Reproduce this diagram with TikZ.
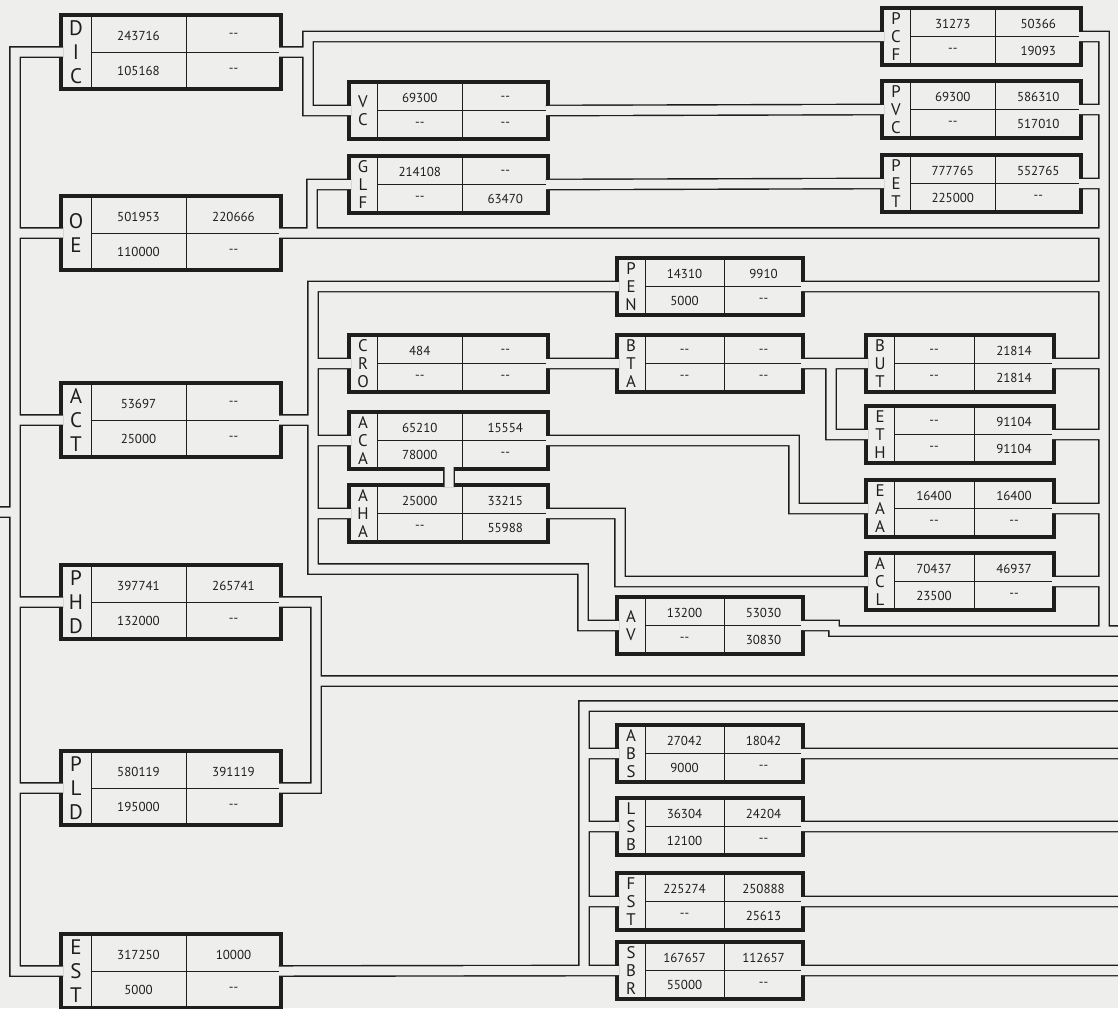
\documentclass[tikz,border=0pt]{standalone}
\usepackage{fontspec}
\setmainfont{PT Sans}
\usepackage{tikz}
\definecolor{Paper}{HTML}{EEEEEC}
\definecolor{Ink}  {HTML}{1E1E1E}
\newcommand{\nd}{-{}-}

\begin{document}
\begin{tikzpicture}[
  x=0.5pt, y=-0.5pt,
  acct/.style     = {draw=Ink, fill=Paper, line width=1.8pt, inner sep=0pt,
                     outer sep=-1pt},
  tag/.style      = {inner sep=0pt, align=center, text=Ink},
  num/.style      = {inner sep=0pt, text=Ink, font=\fontsize{6.5}{7}\selectfont},
  cellline/.style = {draw=Ink, line width=0.45pt},
  duct/.style     = {draw=Ink, line width=5.9pt},
  bore/.style     = {draw=Paper, line width=4.5pt},
]
\path[use as bounding box, fill=Paper] (0,0) rectangle (1118,1008);

\foreach \n/\x/\y/\w/\h/\t/\a/\b/\c/\d in {
  dic/61/15/220/74/{D\\I\\C}/243716/\nd/105168/\nd,
  oe/61/196/220/74/{O\\E}/501953/220666/110000/\nd,
  act/61/383/220/74/{A\\C\\T}/53697/\nd/25000/\nd,
  phd/61/565/220/74/{P\\H\\D}/397741/265741/132000/\nd,
  pld/61/751/220/74/{P\\L\\D}/580119/391119/195000/\nd,
  est/61/934/220/74/{E\\S\\T}/317250/10000/5000/\nd,
  vc/349/82/199/57/{V\\C}/69300/\nd/\nd/\nd,
  glf/349/156/199/57/{G\\L\\F}/214108/\nd/\nd/63470,
  cro/349/335/199/57/{C\\R\\O}/484/\nd/\nd/\nd,
  aca/349/412/199/57/{A\\C\\A}/65210/15554/78000/\nd,
  aha/349/485/199/57/{A\\H\\A}/25000/33215/\nd/55988,
  pcf/882/8/199/57/{P\\C\\F}/31273/50366/\nd/19093,
  pvc/882/81/199/57/{P\\V\\C}/69300/586310/\nd/517010,
  pet/882/155/199/57/{P\\E\\T}/777765/552765/225000/\nd,
  pen/617/258/186/57/{P\\E\\N}/14310/9910/5000/\nd,
  bta/617/335/186/57/{B\\T\\A}/\nd/\nd/\nd/\nd,
  av/617/597/186/57/{A\\V}/13200/53030/\nd/30830,
  abs/617/725/186/57/{A\\B\\S}/27042/18042/9000/\nd,
  lsb/617/798/186/57/{L\\S\\B}/36304/24204/12100/\nd,
  fst/617/873/186/57/{F\\S\\T}/225274/250888/\nd/25613,
  sbr/617/942/186/57/{S\\B\\R}/167657/112657/55000/\nd,
  but/866/335/188/57/{B\\U\\T}/\nd/21814/\nd/21814,
  eth/866/406/188/57/{E\\T\\H}/\nd/91104/\nd/91104,
  eaa/866/480/188/57/{E\\A\\A}/16400/16400/\nd/\nd,
  acl/866/553/188/57/{A\\C\\L}/70437/46937/23500/\nd}{
  \pgfmathsetmacro\tabw{\w>210 ? 30 : 28}
  \pgfmathsetmacro\colm{\x+\tabw+(\w-\tabw)/2}
  \pgfmathsetmacro\tagfs{\h>60 ? 10.5 : 8.4}
  \pgfmathsetmacro\tagbs{\h>60 ? 12 : 8.9}
  \node[acct, minimum width=\w*0.5pt, minimum height=\h*0.5pt] (\n) at (\x+\w/2,\y+\h/2) {};
  \draw[cellline] (\x+\tabw,\y) -- (\x+\tabw,\y+\h)
                  (\colm,\y) -- (\colm,\y+\h)
                  (\x+\tabw,\y+\h/2) -- (\x+\w,\y+\h/2);
  \node[tag, font=\fontsize{\tagfs}{\tagbs}\selectfont] (\n-t) at (\x+\tabw/2,\y+\h/2) {\t};
  \node[num] (\n-a) at ({(\x+\tabw+\colm)/2},\y+\h/4+2) {\a};
  \node[num] (\n-b) at ({(\colm+\x+\w)/2},\y+\h/4+2) {\b};
  \node[num] (\n-c) at ({(\x+\tabw+\colm)/2},\y+3*\h/4) {\c};
  \node[num] (\n-d) at ({(\colm+\x+\w)/2},\y+3*\h/4) {\d};
}

\coordinate (tl) at (15,512);
\coordinate (lx) at (-10,0);
\coordinate (rx) at (1130,0);
\coordinate (rt) at (1104,631);
\coordinate (ja) at (308,0);
\coordinate (jb) at (312,0);
\coordinate (jc) at (313,0);
\coordinate (jd) at (583,569);
\coordinate (je) at (316,681);
\coordinate (jf) at (584,706);
\coordinate (jg) at (831,0);
\coordinate (jh) at (794,0);
\coordinate (ji) at (620,0);
\coordinate (jk) at (834,631);
\coordinate (lk) at (449,0);

\foreach \pass in {duct,bore}
  \draw[\pass]
    (dic.west) -| (tl) |- (est.west)
    (oe.west) -- (oe.west -| tl)
    (act.west) -- (act.west -| tl)
    (phd.west) -- (phd.west -| tl)
    (pld.west) -- (pld.west -| tl)
    (tl) -- (tl -| lx)
    (pcf.west) -| (ja |- vc.west) -- (vc.west)
    (dic.east) -- (dic.east -| ja)
    (vc.east) -- (pvc.west)
    (glf.west) -| (jb |- oe.east)
    (glf.east) -- (pet.west)
    (pcf.east) -| (rt) -- (rt -| rx)
    (pvc.east) -- (pvc.east -| rt)
    (pet.east) -- (pet.east -| rt)
    (oe.east) -- (oe.east -| rt)
    (pen.east) -- (pen.east -| rt)
    (but.east) -- (but.east -| rt)
    (eth.east) -- (eth.east -| rt)
    (eaa.east) -- (eaa.east -| rt)
    (acl.east) -- (acl.east -| rt)
    (av.east) -| (jk) -- (rt)
    (pen.west) -| (jd -| jc) -- (jd) |- (av.west)
    (act.east) -- (act.east -| jc)
    (cro.west) -- (cro.west -| jc)
    (aca.west) -- (aca.west -| jc)
    (aha.west) -- (aha.west -| jc)
    (aca.south -| lk) -- (aha.north -| lk)
    (cro.east) -- (bta.west)
    (bta.east) -- (but.west)
    (bta.east -| jg) |- (eth.west)
    (aca.east) -| (jh |- eaa.west) -- (eaa.west)
    (aha.east) -| (ji |- acl.west) -- (acl.west)
    (phd.east) -| (je) |- (pld.east)
    (je) -- (je -| rx)
    (est.east) -- (sbr.west)
    (sbr.west -| jf) -- (jf) -- (jf -| rx)
    (abs.west) -- (abs.west -| jf)
    (lsb.west) -- (lsb.west -| jf)
    (fst.west) -- (fst.west -| jf)
    (abs.east) -- (abs.east -| rx)
    (lsb.east) -- (lsb.east -| rx)
    (fst.east) -- (fst.east -| rx)
    (sbr.east) -- (sbr.east -| rx);
\end{tikzpicture}
\end{document}
